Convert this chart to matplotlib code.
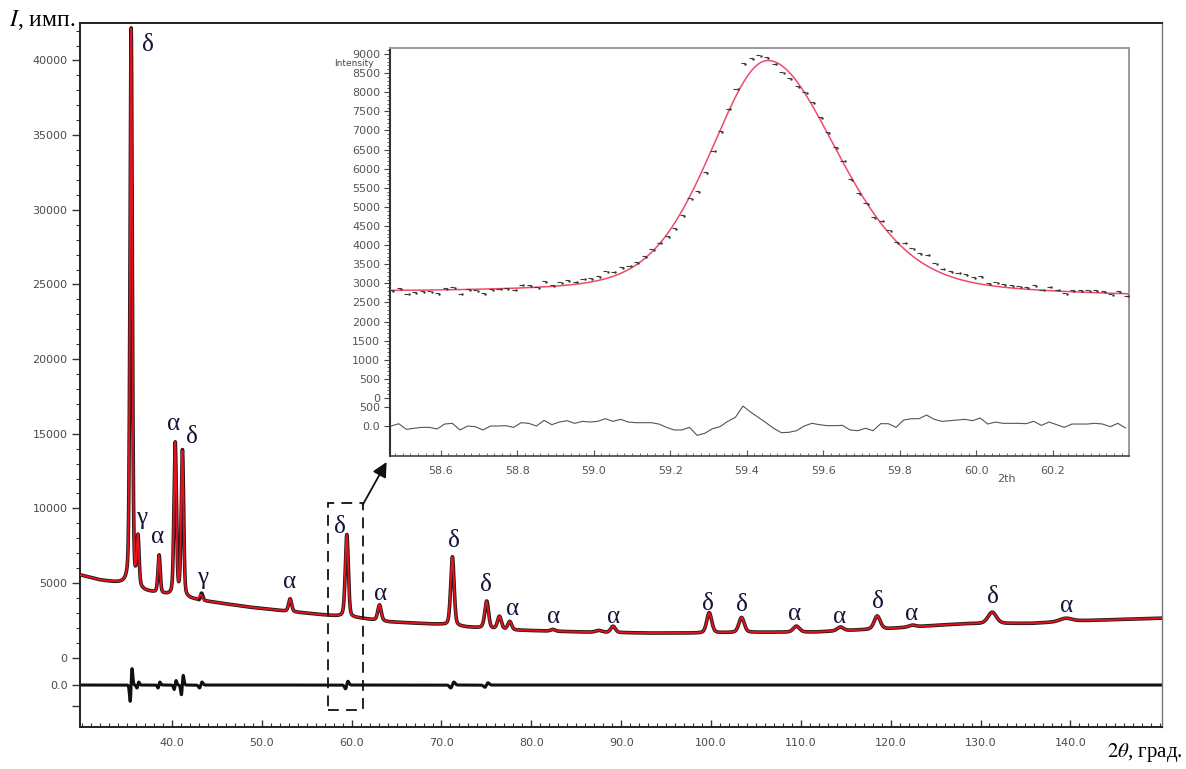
import numpy as np
import matplotlib
matplotlib.use("Agg")
import matplotlib.pyplot as plt
from matplotlib.patches import Rectangle
from matplotlib.ticker import FixedLocator, MultipleLocator

plt.rcParams["mathtext.fontset"] = "stix"

# --- main pattern: background (2theta, counts)
bg_x = [29.8, 32.0, 35.0, 37.0, 39.5, 43.0, 48.7, 53.0, 57.2, 60.9, 64.2, 69.8,
        72.8, 78.0, 85.7, 93.1, 98.3, 104.2, 111.6, 115.3, 119.8, 124.6, 128.3,
        135.7, 141.2, 150.2]
bg_y = [5540, 5200, 4900, 4450, 4200, 3850, 3380, 3100, 2850, 2650, 2400, 2230,
        2050, 1850, 1720, 1650, 1650, 1700, 1720, 1830, 1950, 2150, 2280,
        2300, 2480, 2650]

# reflections: position, height above background, fwhm
peak_pos = [35.45, 36.2, 38.55, 40.35, 41.15, 43.2, 53.15, 59.45, 63.1, 71.2,
            75.0, 76.45, 77.6, 82.4, 87.5, 89.1, 99.8, 103.4, 109.5, 114.4,
            118.5, 122.4, 131.3, 139.5]
peak_h = [37300, 3200, 2500, 10200, 9700, 350, 850, 5500, 1050, 4600,
          1800, 850, 550, 120, 120, 420, 1350, 1000, 400, 250,
          880, 120, 760, 220]
peak_w = [0.30, 0.30, 0.30, 0.32, 0.32, 0.40, 0.40, 0.40, 0.45, 0.45,
          0.50, 0.50, 0.50, 0.60, 0.80, 0.60, 0.65, 0.70, 0.80, 0.80,
          0.80, 0.90, 1.10, 1.60]

# difference curve wiggles (main plot)
res_pos = [35.45, 36.2, 38.55, 40.35, 41.15, 43.2, 59.45, 71.2, 75.0]
res_amp = [1100, 200, 200, 300, 650, 200, 250, 200, 150]
res_w = [0.15, 0.15, 0.15, 0.15, 0.15, 0.20, 0.20, 0.25, 0.25]
RES_ZERO = -1829

# phase labels
lab_txt = ["δ", "γ", "α", "α", "δ", "γ", "α", "δ", "α", "δ", "δ", "α", "α",
           "α", "δ", "δ", "α", "α", "δ", "α", "δ", "α"]
lab_x = [37.33, 36.67, 38.44, 40.22, 42.22, 43.44, 53.11, 58.67, 63.22, 71.33,
         75.0, 77.89, 82.44, 89.11, 99.67, 103.44, 109.33, 114.33, 118.56,
         122.33, 131.33, 139.56]
lab_y = [41025, 9357, 8084, 15653, 14782, 5338, 5070, 8754, 4266, 7816,
         4869, 3262, 2726, 2726, 3597, 3530, 2927, 2726, 3731, 2927, 4065, 3463]

main_yticks = [-3208, RES_ZERO, 0, 5000, 10000, 15000, 20000, 25000, 30000,
               35000, 40000]
main_ylabels = ["", "0.0", "0", "5000", "10000", "15000", "20000", "25000",
                "30000", "35000", "40000"]

# --- inset: single delta reflection fit
ins_bg = (2747, 2616)          # background at left / right limit
ins_peak = (59.455, 6150, 0.18, 0.22)  # centre, height, hwhm left, hwhm right
ins_start, ins_step = 58.47, 0.02
ins_res = [0, 60, -87, -60, -35, -35, -78, 52, 70, -104, 0, -17, -104, 0, 0,
           9, -35, 87, 70, 0, 148, 35, 104, 139, 70, 122, 104, 122, 191, 122,
           174, 104, 87, 87, 87, 52, -35, -104, -104, -35, -244, -191, -70, -17,
           122, 226, 522, 365, 226,
           87, -60, -174, -165, -122, 0, 70, 35, 9, 9, 17, -104, -122, -60,
           -122, 61, 61, -35, 157, 191, 191, 287, 174, 122, 139, 157, 174, 139,
           209, 52, 104, 70, 70, 70, 61, 122, 17, 104, 35, -35, 52, 52, 52, 70,
           52, -17, 70, -52]
INS_RES_ZERO = -733
ins_yticks = [INS_RES_ZERO, -233] + list(range(0, 9001, 500))
ins_ylabels = ["0.0", "500"] + [str(v) for v in range(0, 9001, 500)]
ins_xticks = [58.6, 58.8, 59.0, 59.2, 59.4, 59.6, 59.8, 60.0, 60.2]

TICK_C = "#4a4a4a"
LAB_C = "#14143a"
SERIF = ["Liberation Serif", "DejaVu Serif"]


def pvoigt(x, x0, h, fwhm, eta=0.3):
    u = (x - x0) / fwhm
    return h * (eta / (1 + 4 * u**2) + (1 - eta) * np.exp(-4 * np.log(2) * u**2))


def wiggle(x, x0, a, w):
    u = (x - x0) / w
    return a * u * np.exp(-u**2) / 0.429


tt = np.arange(29.76, 150.2, 0.01)
calc = np.interp(tt, bg_x, bg_y)
for p, h, w in zip(peak_pos, peak_h, peak_w):
    calc += pvoigt(tt, p, h, w)
res = np.zeros_like(tt)
for p, a, w in zip(res_pos, res_amp, res_w):
    res += wiggle(tt, p, a, w)
obs = calc + res

fig = plt.figure(figsize=(11.86, 7.69), dpi=100)
ax = fig.add_axes([0.06745, 0.0546, 0.9123, 0.9159])
ax.plot(tt, obs, color="#1a1a1a", lw=2.6, zorder=2)
ax.plot(tt, calc, color="#e3121e", lw=1.4, zorder=3)
ax.plot(tt, RES_ZERO + res, color="#111111", lw=2.2, zorder=2)
ax.set_xlim(29.76, 150.2)
ax.set_ylim(-4641, 42532)

ax.xaxis.set_major_locator(FixedLocator(np.arange(40, 141, 10)))
ax.set_xticklabels([f"{v:.1f}" for v in np.arange(40, 141, 10)])
ax.xaxis.set_minor_locator(MultipleLocator(1))
ax.yaxis.set_major_locator(FixedLocator(main_yticks))
ax.set_yticklabels(main_ylabels)
ax.yaxis.set_minor_locator(FixedLocator(np.arange(0, 42001, 1000)))
ax.tick_params(axis="x", which="major", direction="in", length=5, width=1,
               labelsize=8, labelcolor=TICK_C, color="#333333", pad=8)
ax.tick_params(axis="x", which="minor", direction="in", length=3, width=0.8,
               color="#333333")
ax.tick_params(axis="y", which="major", direction="out", length=6, width=1,
               labelsize=8, labelcolor=TICK_C, color="#333333", pad=3)
ax.tick_params(axis="y", which="minor", direction="out", length=3, width=0.8,
               color="#333333")
for s in ["left", "bottom", "top"]:
    ax.spines[s].set_linewidth(1.4)
    ax.spines[s].set_color("#222222")
ax.spines["right"].set_linewidth(1.0)
ax.spines["right"].set_color("#777777")

for t, x, y in zip(lab_txt, lab_x, lab_y):
    ax.text(x, y, t, ha="center", va="center", fontsize=18, color=LAB_C,
            family=SERIF, zorder=5)

ax.add_patch(Rectangle((57.33, -3503), 61.22 - 57.33, 10362 + 3503, fill=False,
                       ls=(0, (6, 4)), lw=1.3, color="#111111", zorder=4))
ax.annotate("", xy=(63.89, 13108), xytext=(61.22, 10228),
            arrowprops=dict(arrowstyle="-|>", color="#111111", lw=1.3,
                            mutation_scale=22, shrinkA=0, shrinkB=0),
            zorder=4, annotation_clip=False)

fig.text(0.008, 1 - 20 / 769, r"$I$, имп.", fontsize=17, family=SERIF,
         ha="left", va="center")
fig.text(0.997, 1 - 752 / 769, r"$2\theta$, град.", fontsize=15, family=SERIF,
         ha="right", va="center")

# --- inset
ia = fig.add_axes([0.3288, 0.4070, 0.6231, 0.5306], zorder=6)
fine = np.arange(58.467, 60.40, 0.002)


def ins_calc(x):
    bg = np.interp(x, [58.467, 60.399], ins_bg)
    c, h, wl, wr = ins_peak
    hw = np.where(x < c, wl, wr)
    return bg + pvoigt(x, c, h, 2 * hw, eta=0.35)


ins_t = ins_start + ins_step * np.arange(len(ins_res))
ins_obs = ins_calc(ins_t) + np.array(ins_res)
ia.plot(fine, ins_calc(fine), color="#f04a6a", lw=1.1, zorder=3)
ia.plot(ins_t, ins_obs, ls="none", marker="_", ms=3.5, mew=0.8,
        color="#3a3a3a", zorder=4)
ia.plot(ins_t + 0.006, ins_obs - 20, ls="none", marker=".", ms=1.5,
        color="#3a3a3a", zorder=4)
ia.plot(ins_t, INS_RES_ZERO + np.array(ins_res), color="#555555", lw=0.8)
ia.set_xlim(58.467, 60.399)
ia.set_ylim(-1518, 9158)

ia.xaxis.set_major_locator(FixedLocator(ins_xticks))
ia.set_xticklabels([f"{v:.1f}" for v in ins_xticks])
ia.xaxis.set_minor_locator(MultipleLocator(0.02))
ia.yaxis.set_major_locator(FixedLocator(ins_yticks))
ia.set_yticklabels(ins_ylabels)
ia.yaxis.set_minor_locator(FixedLocator(np.arange(0, 9101, 100)))
ia.tick_params(axis="x", which="major", direction="in", length=4, width=0.8,
               labelsize=8, labelcolor="#555555", color="#555555", pad=7)
ia.tick_params(axis="x", which="minor", direction="in", length=2, width=0.6,
               color="#555555")
ia.tick_params(axis="y", which="major", direction="out", length=4, width=0.8,
               labelsize=8, labelcolor="#555555", color="#444444", pad=3)
ia.tick_params(axis="y", which="minor", direction="out", length=2, width=0.6,
               color="#444444")
ia.spines["left"].set_linewidth(1.5)
ia.spines["left"].set_color("#333333")
ia.spines["bottom"].set_linewidth(1.2)
ia.spines["bottom"].set_color("#444444")
for s in ["top", "right"]:
    ia.spines[s].set_linewidth(1.4)
    ia.spines[s].set_color("#9a9a9a")
ia.text(60.08, -0.045, "2th", transform=ia.get_xaxis_transform(), ha="center",
        va="top", fontsize=8, color="#555555")
fig.text(354 / 1186, 1 - 64 / 769, "Intensity", fontsize=6.5, color="#444444",
         ha="center", va="center")

fig.savefig("out.png", dpi=100)
